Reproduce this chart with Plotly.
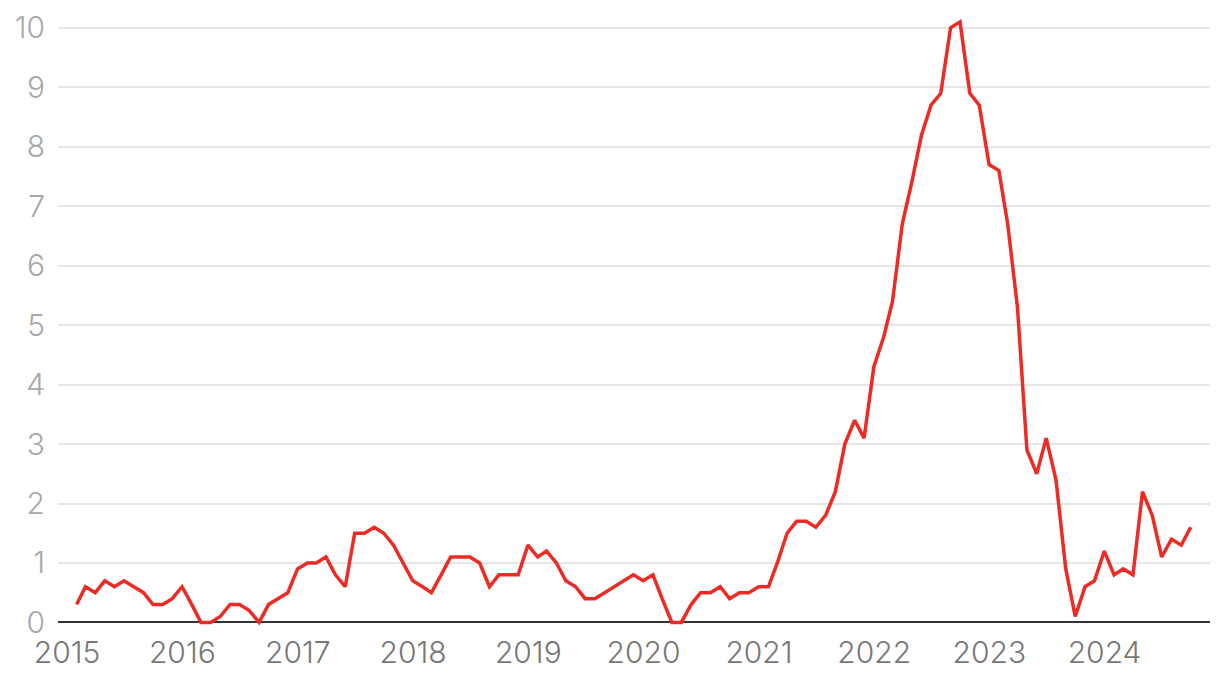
import pandas as pd
import plotly.graph_objects as go

# Monthly values (% y/y), Jan 2015 - Sep 2024
v2015 = [0.3, 0.6, 0.5, 0.7, 0.6, 0.7, 0.6, 0.5, 0.3, 0.3, 0.4, 0.6]
v2016 = [0.3, 0.0, 0.0, 0.1, 0.3, 0.3, 0.2, 0.0, 0.3, 0.4, 0.5, 0.9]
v2017 = [1.0, 1.0, 1.1, 0.8, 0.6, 1.5, 1.5, 1.6, 1.5, 1.3, 1.0, 0.7]
v2018 = [0.6, 0.5, 0.8, 1.1, 1.1, 1.1, 1.0, 0.6, 0.8, 0.8, 0.8, 1.3]
v2019 = [1.1, 1.2, 1.0, 0.7, 0.6, 0.4, 0.4, 0.5, 0.6, 0.7, 0.8, 0.7]
v2020 = [0.8, 0.4, 0.0, 0.0, 0.3, 0.5, 0.5, 0.6, 0.4, 0.5, 0.5, 0.6]
v2021 = [0.6, 1.0, 1.5, 1.7, 1.7, 1.6, 1.8, 2.2, 3.0, 3.4, 3.1, 4.3]
v2022 = [4.8, 5.4, 6.7, 7.4, 8.2, 8.7, 8.9, 10.0, 10.1, 8.9, 8.7, 7.7]
v2023 = [7.6, 6.7, 5.3, 2.9, 2.5, 3.1, 2.4, 0.9, 0.1, 0.6, 0.7, 1.2]
v2024 = [0.8, 0.9, 0.8, 2.2, 1.8, 1.1, 1.4, 1.3, 1.6]

values = v2015 + v2016 + v2017 + v2018 + v2019 + v2020 + v2021 + v2022 + v2023 + v2024
dates = pd.date_range("2015-01-01", periods=len(values), freq="MS") + pd.offsets.MonthEnd(1)

year_ticks = [f"{y}-01-01" for y in range(2015, 2025)]
year_labels = [str(y) for y in range(2015, 2025)]
y_ticks = list(range(0, 11))

fig = go.Figure()
fig.add_trace(go.Scatter(
    x=dates, y=values, mode="lines",
    line=dict(color="#ee2a24", width=3.5),
    hoverinfo="x+y",
))

# page body has an 8px default margin, so the figure is sized/offset to compensate
fig.update_layout(
    width=1212, height=670,
    margin=dict(l=50, r=10, t=2, b=52, autoexpand=False),
    paper_bgcolor="white", plot_bgcolor="white",
    showlegend=False,
    font=dict(family="Inter", size=30, weight=300),
    xaxis=dict(
        range=["2014-12-03", "2024-11-30"],
        tickvals=year_ticks, ticktext=year_labels,
        showgrid=False, zeroline=False, showline=False,
        ticks="", ticklabelstandoff=6, automargin=False,
        tickfont=dict(color="#777777", size=30, family="Inter", weight=300),
    ),
    yaxis=dict(
        range=[-0.06, 10.3],
        tickvals=y_ticks,
        showgrid=True, gridcolor="#e6e6e6", gridwidth=1.5,
        zeroline=True, zerolinecolor="#333333", zerolinewidth=2,
        showline=False, ticks="", ticklabelstandoff=12, automargin=False,
        tickfont=dict(color="#a8a8a8", size=30, family="Inter", weight=300),
    ),
)

fig.write_html("out.html")
